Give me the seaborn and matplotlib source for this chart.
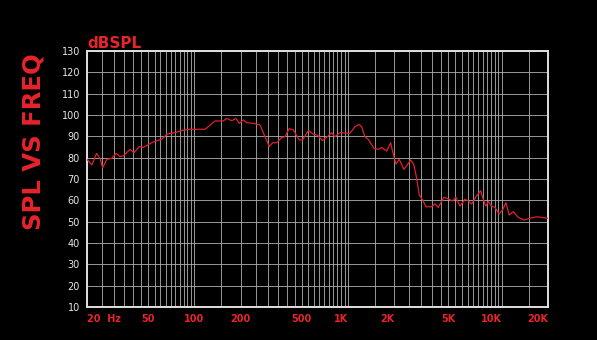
import numpy as np
import pandas as pd
import matplotlib
matplotlib.use("Agg")
import matplotlib.pyplot as plt
from matplotlib.ticker import NullFormatter, FixedLocator
import seaborn as sns

# ---- data ----
freq_hz = [20, 21.5, 23.1, 24.3, 25.3, 26.9, 29.0, 30.9, 32.8, 34.4, 38.1, 40.4,
           43.8, 46.5, 52.7, 57.3, 61.2, 66.6, 74.7, 82.6, 91.2, 101, 117, 123,
           136, 154, 162, 175, 186, 196, 208, 219, 242, 267, 288, 307, 323, 343,
           370, 388, 414, 440, 481, 506, 551, 594, 630, 683, 743, 782, 821, 885,
           1028, 1108, 1182, 1225, 1287, 1353, 1473, 1572, 1654, 1782, 1892, 1950,
           2048, 2152, 2310, 2427, 2554, 2683, 2794, 2904, 3056, 3212, 3498, 3676,
           3862, 4205, 4553, 4791, 5033, 5346, 5761, 6053, 6368, 6793, 7288, 7577,
           7889, 8165, 8590, 9027, 9628, 10130, 10645, 11186, 11876, 12802, 13940,
           15252, 16862, 18168, 20000]
spl_db = [79.2, 76.6, 82.0, 79.7, 75.3, 79.2, 79.7, 82.0, 80.5, 80.8, 83.9, 82.3,
          85.2, 84.8, 87.0, 88.0, 88.6, 91.1, 91.7, 92.7, 93.3, 93.3, 93.3, 94.5,
          97.2, 97.2, 98.4, 97.3, 98.4, 96.1, 97.7, 96.4, 96.1, 95.3, 89.8, 85.2,
          87.0, 87.0, 89.5, 89.8, 93.6, 93.0, 88.3, 88.3, 92.7, 91.0, 90.6, 88.0,
          90.2, 91.7, 89.8, 91.7, 91.4, 94.5, 95.6, 94.5, 89.8, 88.6, 84.4, 83.9,
          84.8, 83.1, 87.0, 82.8, 77.0, 79.2, 74.5, 76.6, 78.9, 76.6, 70.3, 62.5,
          60.2, 57.0, 57.0, 58.3, 56.7, 61.4, 60.5, 59.7, 61.4, 57.3, 60.5, 59.7,
          58.3, 61.7, 64.5, 60.5, 57.3, 59.4, 57.3, 56.7, 53.6, 55.5, 58.9, 53.1,
          54.7, 52.0, 50.8, 51.6, 52.3, 52.0, 51.6]

x_ticks = [20, 50, 100, 200, 500, 1000, 2000, 5000, 10000, 20000]
x_tick_labels = ["20  Hz", "50", "100", "200", "500", "1K", "2K", "5K", "10K", "20K"]
y_ticks = [10, 20, 30, 40, 50, 60, 70, 80, 90, 100, 110, 120, 130]

RED = "#e8232c"
LINE_RED = "#e0202a"

sns.set_style("dark", {"axes.facecolor": "black", "figure.facecolor": "black"})
plt.rcParams["font.family"] = ["DejaVu Sans"]

fig = plt.figure(figsize=(5.97, 3.40), dpi=100)
fig.patch.set_facecolor("black")
ax = fig.add_axes([87 / 597, 1 - 307 / 340, (548 - 87) / 597, (307 - 51) / 340])
ax.set_facecolor("black")

df = pd.DataFrame({"freq": freq_hz, "spl": spl_db})
sns.lineplot(data=df, x="freq", y="spl", ax=ax, color=LINE_RED, linewidth=0.9,
             zorder=3)

ax.set_xscale("log")
ax.set_xlim(20, 20000)
ax.set_ylim(10, 130)

# grid lines at every half-unit of each decade
minor = []
for d in [10, 100, 1000, 10000]:
    for k in np.arange(1.0, 10.01, 0.5):
        v = k * d
        if 20 <= v <= 20000 and v not in x_ticks:
            minor.append(v)
ax.xaxis.set_major_locator(FixedLocator(x_ticks))
ax.xaxis.set_minor_locator(FixedLocator(minor))
ax.xaxis.set_minor_formatter(NullFormatter())
ax.set_xticklabels(x_tick_labels)
ax.set_yticks(y_ticks)
ax.set_yticklabels([str(v) for v in y_ticks])

ax.grid(True, which="both", axis="both", color="#b0b0b0", linewidth=0.6)
ax.set_axisbelow(True)

ax.tick_params(axis="both", which="both", length=0)
ax.tick_params(axis="y", colors="#e6e6e6", labelsize=7, pad=5)
ax.tick_params(axis="x", labelcolor=RED, labelsize=7, pad=5)
for lbl in ax.get_xticklabels():
    lbl.set_fontweight("bold")
    t = lbl.get_text()
    if t.endswith("K"):
        lbl.set_horizontalalignment("right")
    elif "Hz" in t:
        lbl.set_horizontalalignment("left")

for s in ax.spines.values():
    s.set_visible(True)
    s.set_color("#e0e0e0")
    s.set_linewidth(1.4)

ax.set_xlabel("")
ax.set_ylabel("")

fig.text(87 / 597, 1 - 48.5 / 340, "dBSPL", color=RED, fontsize=11,
         fontweight="bold", ha="left", va="baseline")
fig.text(34 / 597, 1 - 142 / 340, "SPL VS FREQ", color=RED, fontsize=17.5,
         fontweight="bold", rotation=90, ha="center", va="center")

fig.savefig("out.png", dpi=100, facecolor="black")
